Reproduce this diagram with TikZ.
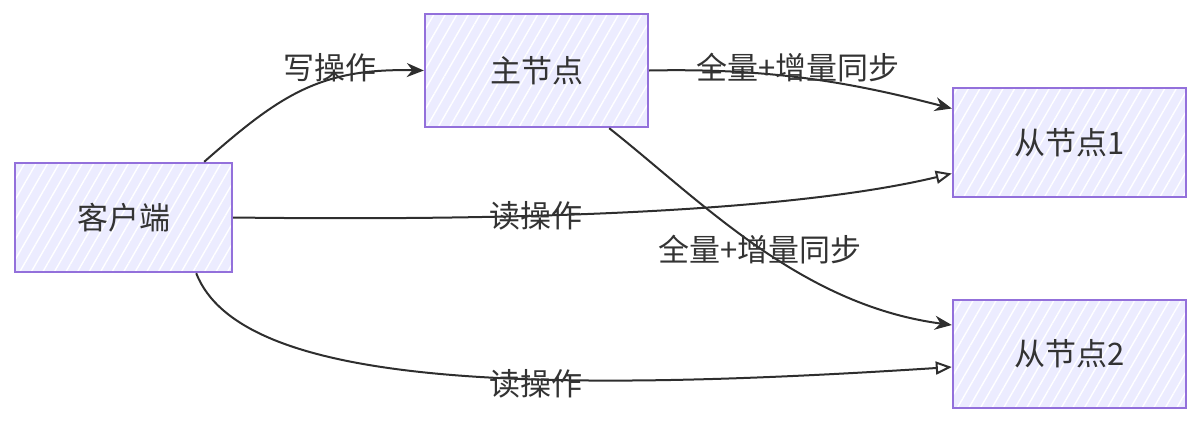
\documentclass[tikz,border=0pt]{standalone}
\usepackage{fontspec}
\setmainfont{Noto Sans CJK SC}
\usetikzlibrary{arrows.meta,patterns.meta}
\definecolor{nodefill}{HTML}{ECECFF}
\definecolor{nodeborder}{HTML}{9370DB}
\definecolor{txt}{HTML}{333333}
\tikzset{
  box/.style={draw=nodeborder, line width=2.4pt, text=txt,
    font=\fontsize{31}{34}\selectfont, inner sep=0pt,
    preaction={fill=nodefill},
    preaction={pattern={Lines[angle=60,distance=10pt,line width=1.4pt]}, pattern color=white}},
  link/.style={draw=txt!90!black, line width=2pt},
  solidarrow/.style={-{Stealth[length=17pt,width=14pt]}},
  openarrow/.style={-{Triangle[open,length=16pt,width=13pt,line width=2pt]}},
  lbl/.style={text=txt, font=\fontsize{31}{34}\selectfont, inner sep=0pt}
}
\begin{document}
\begin{tikzpicture}[x=1pt,y=-1pt]
\useasboundingbox (0,0) rectangle (1201,426);
\node[box, minimum width=217pt, minimum height=109pt] (client) at (123.5,217.5) {客户端};
\node[box, minimum width=223pt, minimum height=113pt] (main) at (536.5,70.5) {主节点};
\node[box, minimum width=233pt, minimum height=109pt] (s1) at (1069.5,142.5) {从节点1};
\node[box, minimum width=233pt, minimum height=108pt] (s2) at (1069.5,354) {从节点2};

\draw[link, solidarrow] ([xshift=-29pt]client.north east) .. controls (280,95) and (320,68) .. (main.west);
\draw[link, solidarrow] (main.east) .. controls (770,68) and (850,82) .. ([yshift=34pt]s1.west);
\draw[link, openarrow] (client.east) .. controls (600,222) and (820,205) .. ([yshift=-31pt]s1.west);
\draw[link, solidarrow] ([xshift=-40pt]main.south east) .. controls (700,200) and (800,305) .. ([yshift=29pt]s2.west);
\draw[link, openarrow] ([xshift=-37pt]client.south east) .. controls (240,385) and (520,395) .. ([yshift=-13pt]s2.west);

\node[lbl] (l1) at (330,68) {写操作};
\node[lbl] (l2) at (798,68) {全量+增量同步};
\node[lbl] (l3) at (536,216) {读操作};
\node[lbl] (l4) at (760,250) {全量+增量同步};
\node[lbl] (l5) at (536,384) {读操作};
\end{tikzpicture}
\end{document}
